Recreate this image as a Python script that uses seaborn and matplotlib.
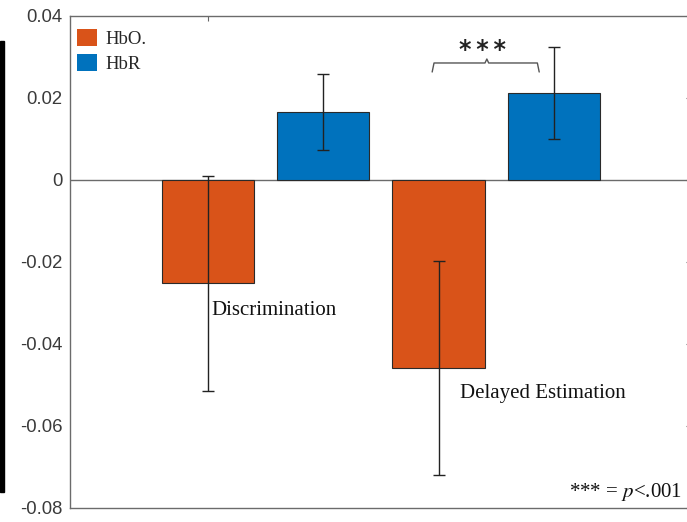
import numpy as np
import pandas as pd
import matplotlib
matplotlib.use("Agg")
import matplotlib.pyplot as plt
import seaborn as sns
from matplotlib.patches import Rectangle, Patch

# ---- data ----
tasks = ["Discrimination", "Delayed Estimation"]
signals = ["HbO.", "HbR"]
hbo_mean = [-0.0252, -0.0458]
hbr_mean = [0.0166, 0.0212]
hbo_err = [0.0262, 0.0261]
hbr_err = [0.0092, 0.0113]
yticks = [0.04, 0.02, 0, -0.02, -0.04, -0.06, -0.08]
ytick_labels = ["0.04", "0.02", "0", "-0.02", "-0.04", "-0.06", "-0.08"]
colors = ["#D95319", "#0072BD"]
sig_label = "***"
note_label = r"*** = $p$<.001"

sns.set_theme(style="white")
plt.rcParams['font.family'] = ['Liberation Sans', 'DejaVu Sans']
plt.rcParams['axes.unicode_minus'] = False
plt.rcParams['mathtext.fontset'] = 'stix'

df = pd.DataFrame({
    "task": tasks * 2,
    "signal": [signals[0]] * len(tasks) + [signals[1]] * len(tasks),
    "value": hbo_mean + hbr_mean,
})

W, H = 687, 522
fig = plt.figure(figsize=(W / 100, H / 100), dpi=100)
ax = fig.add_axes([70 / W, 14 / H, 621 / W, 492 / H])

sns.barplot(data=df, x="task", y="value", hue="signal", order=tasks,
            hue_order=signals, palette=colors, width=1.0, gap=0.2,
            errorbar=None, edgecolor="#2a2a2a", linewidth=0.8,
            saturation=1, ax=ax, zorder=2)

ax.axhline(0, color="#6b6b6b", lw=1.0, zorder=1)

centers = []
for cont, errs in zip(ax.containers, [hbo_err, hbr_err]):
    xs = [p.get_x() + p.get_width() / 2 for p in cont]
    centers.append(xs)
    ax.errorbar(xs, cont.datavalues, yerr=errs, fmt='none', ecolor="#222222",
                elinewidth=1.0, capsize=4.3, capthick=1.0, zorder=3)

leg = ax.get_legend()
if leg is not None:
    leg.remove()
handles = [Patch(facecolor=c, edgecolor='none') for c in colors]
ax.legend(handles, signals, loc='upper left',
          bbox_to_anchor=(7 / 621, 1 - 13 / 492), frameon=False,
          prop={'family': 'Liberation Serif', 'size': 13.5},
          handlelength=1.05, handleheight=1.05, handletextpad=0.45,
          labelspacing=0.3, borderpad=0, borderaxespad=0)

ax.set_ylim(-0.08, 0.04)
ax.set_xlim(-0.848, 1.844)
ax.set_yticks(yticks)
ax.set_yticklabels(ytick_labels)
ax.set_xticks([centers[0][0]])
ax.set_xticklabels([""])
ax.set_xlabel("")
ax.set_ylabel("")

ax.tick_params(axis='both', direction='in', length=3.6, width=0.8,
               color="#666666", top=True, right=True, labelsize=13.3,
               labelcolor="#3a3a3a", pad=5.5)
for s in ax.spines.values():
    s.set_visible(True)
    s.set_color("#6b6b6b")
    s.set_linewidth(1.0)

serif = {'family': 'Liberation Serif', 'size': 15, 'color': '#111111'}
ax.text(centers[0][0] + 0.017, -0.0329, tasks[0], ha='left', va='baseline', **serif)
ax.text(centers[0][1] + 0.092, -0.0532, tasks[1], ha='left', va='baseline', **serif)
ax.text(1.806, -0.0773, note_label, ha='right', va='baseline', **serif)

# significance bracket between the Delayed Estimation bars
xl = centers[0][1] - 0.028
xr = centers[1][1] - 0.064
xm = 0.959
y_h, y_end, y_pk = 0.02854, 0.02634, 0.02951
d = 0.008
ax.plot([xl, xl + d, xm - d, xm, xm + d, xr - d, xr],
        [y_end, y_h, y_h, y_pk, y_h, y_h, y_end],
        color="#555555", lw=1.0, zorder=4)
ax.text(0.942, 0.0318, "\u2009".join(sig_label), ha='center', va='center',
        family='DejaVu Sans', fontsize=17, fontweight='semibold', color='#222222')

# black edge strip at the far left
fig.add_artist(Rectangle((0, 1 - 492 / H), 4 / W, (492 - 41) / H,
                         transform=fig.transFigure, color='black'))

fig.savefig("out.png", dpi=100)
